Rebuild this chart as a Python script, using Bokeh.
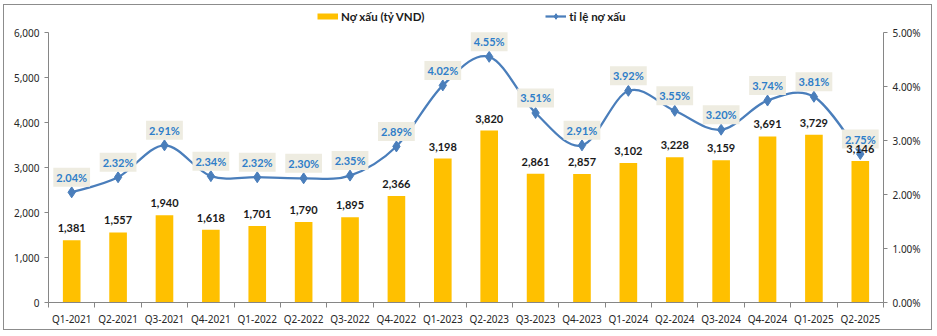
import numpy as np
from bokeh.plotting import figure
from bokeh.models import (Range1d, LinearAxis, FixedTicker, NumeralTickFormatter,
                          PrintfTickFormatter, ColumnDataSource, LabelSet, Legend,
                          LegendItem, InlineStyleSheet)
from bokeh.core.properties import value
from bokeh.embed import file_html
from bokeh.resources import INLINE

quarters = ["Q1-2021", "Q2-2021", "Q3-2021", "Q4-2021", "Q1-2022", "Q2-2022",
            "Q3-2022", "Q4-2022", "Q1-2023", "Q2-2023", "Q3-2023", "Q4-2023",
            "Q1-2024", "Q2-2024", "Q3-2024", "Q4-2024", "Q1-2025", "Q2-2025"]
no_xau = [1381, 1557, 1940, 1618, 1701, 1790, 1895, 2366, 3198, 3820, 2861, 2857,
          3102, 3228, 3159, 3691, 3729, 3146]
ti_le = [2.04, 2.32, 2.91, 2.34, 2.32, 2.30, 2.35, 2.89, 4.02, 4.55, 3.51, 2.91,
         3.92, 3.55, 3.20, 3.74, 3.81, 2.75]
left_ticks = [0, 1000, 2000, 3000, 4000, 5000, 6000]
right_ticks = [0, 1, 2, 3, 4, 5]

BAR = "#FFC000"
LINE = "#4A7EBB"
PCT_TXT = "#2E7EC9"
AXIS = "#868686"
TICK_TXT = "#262626"

n = len(quarters)
xs = np.arange(1, n + 1, dtype=float)
ys = np.array(ti_le, dtype=float)

# frame spans y=4..302 px; axes' data span (0..max) occupies the lower 270 px
FRAME_H, AXIS_H = 298.0, 270.0
left_max, right_max = left_ticks[-1], right_ticks[-1]

p = figure(width=937, height=336, x_range=Range1d(0.5, n + 0.5),
           y_range=Range1d(0, left_max * FRAME_H / AXIS_H), output_backend="svg",
           toolbar_location=None, min_border_left=48, min_border_right=54,
           min_border_top=4, min_border_bottom=34, background_fill_color="white",
           border_fill_color="white", outline_line_color=None)
p.stylesheets = [InlineStyleSheet(css=""":host::after {
  content: ""; position: absolute; left: 3px; top: 4px; width: 929px; height: 326px;
  border: 1.5px solid #8c8c8c; box-sizing: border-box; pointer-events: none; z-index: 1000;
}""")]
p.extra_y_ranges = {"pct": Range1d(0, right_max * FRAME_H / AXIS_H)}
p.xgrid.visible = False
p.ygrid.visible = False

src = ColumnDataSource(dict(x=xs, v=no_xau, lab=[f"{v:,}" for v in no_xau],
                            pct=ys, plab=[f"{v:.2f}%" for v in ti_le]))
p.vbar(x="x", top="v", width=0.38, source=src, fill_color=BAR, line_color=None)

# smoothed line (Catmull-Rom style bezier through the data points)
x0, y0, x1, y1, cx0, cy0, cx1, cy1 = [], [], [], [], [], [], [], []
for i in range(n - 1):
    a = i - 1 if i > 0 else i
    d = i + 2 if i + 2 < n else i + 1
    x0.append(xs[i]); y0.append(ys[i]); x1.append(xs[i + 1]); y1.append(ys[i + 1])
    cx0.append(xs[i] + (xs[i + 1] - xs[a]) / 6); cy0.append(ys[i] + (ys[i + 1] - ys[a]) / 6)
    cx1.append(xs[i + 1] - (xs[d] - xs[i]) / 6); cy1.append(ys[i + 1] - (ys[d] - ys[i]) / 6)
p.bezier(x0=x0, y0=y0, x1=x1, y1=y1, cx0=cx0, cy0=cy0, cx1=cx1, cy1=cy1,
         y_range_name="pct", line_color=LINE, line_width=2.25)
marks = p.scatter(x="x", y="pct", source=src, marker="diamond", size=11, fill_color=LINE,
                  line_color=LINE, y_range_name="pct")

# labels
p.add_layout(LabelSet(x="x", y="v", text="lab", source=src, y_offset=12,
                      text_align="center", text_baseline="middle",
                      text_font=value("Lato"), text_font_style="bold",
                      text_font_size="11px", text_color="#1a1a1a"))
p.text(x="x", y="pct", text="plab", source=src, y_offset=-15, y_range_name="pct",
       text_align="center", text_baseline="middle", text_font=value("Lato"),
       text_font_style="bold", text_font_size="11px", text_color=PCT_TXT,
       background_fill_color="#EEECE1", padding=3)

# axes
p.xaxis.ticker = FixedTicker(ticks=list(xs), minor_ticks=list(np.arange(0.5, n + 1, 1.0)))
p.xaxis.major_label_overrides = {int(x): q for x, q in zip(xs, quarters)}
p.xaxis.major_tick_line_color = None
p.xaxis.major_tick_out = 3
p.xaxis.major_tick_in = 0
p.xaxis.minor_tick_in = 0
p.xaxis.minor_tick_out = 5
p.xaxis.minor_tick_line_color = AXIS
p.xaxis.axis_line_color = AXIS
p.xaxis.major_label_standoff = 4
p.xaxis.major_label_text_font = "Noto Sans"
p.xaxis.major_label_text_font_size = "10px"
p.xaxis.major_label_text_color = TICK_TXT

p.yaxis.ticker = FixedTicker(ticks=left_ticks)
p.yaxis.bounds = (0, left_max)
p.yaxis.formatter = NumeralTickFormatter(format="0,0")
p.yaxis.minor_tick_line_color = None
p.yaxis.major_tick_in = 0
p.yaxis.major_tick_out = 4
p.yaxis.major_tick_line_color = AXIS
p.yaxis.axis_line_color = AXIS
p.yaxis.major_label_standoff = 5
p.yaxis.major_label_text_font = "Noto Sans"
p.yaxis.major_label_text_font_size = "10px"
p.yaxis.major_label_text_color = TICK_TXT

ra = LinearAxis(y_range_name="pct", ticker=FixedTicker(ticks=right_ticks),
                formatter=PrintfTickFormatter(format="%.2f%%"), bounds=(0, right_max))
ra.minor_tick_line_color = None
ra.major_tick_in = 0
ra.major_tick_out = 4
ra.major_tick_line_color = AXIS
ra.axis_line_color = AXIS
ra.major_label_standoff = 5
ra.major_label_text_font = "Noto Sans"
ra.major_label_text_font_size = "10px"
ra.major_label_text_color = TICK_TXT
p.add_layout(ra, "right")

# legend (swatches use renderers holding a single NaN point so nothing is drawn in the plot)
dummy_bar = p.line(x=[np.nan], y=[np.nan], line_color=BAR, line_width=6)
dummy_line = p.line(x=[np.nan], y=[np.nan], line_color=LINE, line_width=2.25)
dummy_mark = p.scatter(x=[np.nan], y=[np.nan], marker="diamond", size=9,
                       fill_color=LINE, line_color=LINE)
legend = Legend(items=[LegendItem(label="Nợ xấu (tỷ VND)", renderers=[dummy_bar]),
                       LegendItem(label="tỉ lệ nợ xấu", renderers=[dummy_line, dummy_mark])],
                location=(269, 279), orientation="horizontal", spacing=121,
                glyph_width=21, glyph_height=14, label_height=14, label_standoff=3,
                padding=0, margin=0, border_line_color=None, background_fill_alpha=0,
                label_text_font="Lato", label_text_font_style="bold",
                label_text_font_size="11.5px", label_text_color="#1a1a1a")
p.add_layout(legend, "center")

open("out.html", "w").write(file_html(p, INLINE))
